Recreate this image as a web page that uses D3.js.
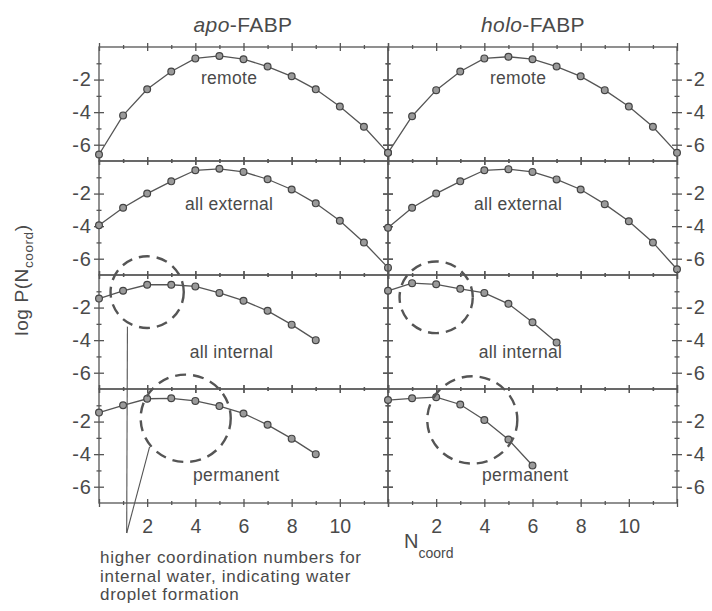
<!DOCTYPE html>
<html>
<head>
<meta charset="utf-8">
<script src="https://cdn.jsdelivr.net/npm/d3@7"></script>
<style>
  body { margin: 0; background: #fff; }
  text { font-family: "Liberation Sans", Arial, sans-serif; fill: #4a4a4a; }
</style>
</head>
<body>
<script>
// values, log P(Ncoord) for Ncoord = 0, 1, 2 ...
var nCoord = [0, 1, 2, 3, 4, 5, 6, 7, 8, 9, 10, 11, 12];
var panelNames = ['remote', 'all external', 'all internal', 'permanent'];
var proteins = ['apo', 'holo'];

var apoRemote = [-6.6, -4.2, -2.6, -1.5, -0.7, -0.55, -0.75, -1.2, -1.8, -2.6, -3.65, -4.9, -6.5];
var holoRemote = [-6.5, -4.25, -2.65, -1.5, -0.7, -0.6, -0.75, -1.2, -1.8, -2.65, -3.65, -4.9, -6.5];
var apoExternal = [-3.95, -2.87, -2.0, -1.25, -0.57, -0.48, -0.67, -1.12, -1.75, -2.6, -3.67, -5.0, -6.55];
var holoExternal = [-4.1, -2.87, -2.0, -1.25, -0.57, -0.5, -0.67, -1.13, -1.75, -2.65, -3.7, -5.0, -6.65];
var apoInternal = [-1.45, -0.97, -0.6, -0.6, -0.7, -1.1, -1.58, -2.2, -3.05, -4.0];
var holoInternal = [-0.97, -0.5, -0.57, -0.85, -1.1, -1.77, -2.9, -4.15];
var apoPermanent = [-1.45, -1.0, -0.6, -0.57, -0.73, -1.05, -1.5, -2.2, -3.05, -4.0];
var holoPermanent = [-0.68, -0.57, -0.5, -0.95, -1.9, -3.1, -4.7];

var xMajor = [0, 2, 4, 6, 8, 10, 12];
var xMinor = [1, 3, 5, 7, 9, 11];
var xLabels = [2, 4, 6, 8, 10];
var yMajor = [-2, -4, -6];
var yMinor = [-1, -3, -5];

// dashed circles marking the high coordination region (Ncoord, log P)
var droplets = [
  { panel: 2, prot: 0, cx: 2.0, cy: -1.05 },
  { panel: 2, prot: 1, cx: 2.0, cy: -1.37 },
  { panel: 3, prot: 0, cx: 3.6, cy: -1.8 },
  { panel: 3, prot: 1, cx: 3.5, cy: -1.9 }
];

var series = [
  [apoRemote, holoRemote],
  [apoExternal, holoExternal],
  [apoInternal, holoInternal],
  [apoPermanent, holoPermanent]
];

var w = 712, h = 611;
var top0 = 47, panelH = 114;
var ink = '#555';

var svg = d3.select('body').append('svg')
    .attr('width', w)
    .attr('height', h);

var xScales = [
  d3.scaleLinear().domain([0, 12]).range([99, 388]),
  d3.scaleLinear().domain([0, 12]).range([388, 677])
];

function yScale(i) {
  return d3.scaleLinear().domain([-7, 0]).range([top0 + (i + 1) * panelH, top0 + i * panelH]);
}

// crossing ticks: one axis each way
function crossTicks(g, axisA, axisB, vals, len) {
  [axisA, axisB].forEach(function(ax) {
    g.append('g').call(ax.tickValues(vals).tickSize(len).tickSizeOuter(0).tickFormat(''))
      .call(s => s.select('.domain').remove())
      .selectAll('line').attr('stroke', ink).attr('stroke-width', 1.3);
  });
}

var yLast = yScale(3);

for (var p = 0; p < 2; p++) {
  var x = xScales[p];
  for (var i = 0; i < 4; i++) {
    var y = yScale(i);
    var g = svg.append('g');

    g.append('rect')
      .attr('x', x(0)).attr('y', y(0))
      .attr('width', x(12) - x(0)).attr('height', y(-7) - y(0))
      .attr('fill', 'none').attr('stroke', ink).attr('stroke-width', 1.3);

    // x ticks on top and bottom edges
    [0, -7].forEach(function(v) {
      var gx = g.append('g').attr('transform', 'translate(0,' + y(v) + ')');
      crossTicks(gx, d3.axisTop(x), d3.axisBottom(x), xMajor, 4);
      crossTicks(gx, d3.axisTop(x), d3.axisBottom(x), xMinor, 2);
    });
    // y ticks on left and right edges
    [0, 12].forEach(function(v) {
      var gy = g.append('g').attr('transform', 'translate(' + x(v) + ',0)');
      crossTicks(gy, d3.axisLeft(y), d3.axisRight(y), yMajor, 5);
      crossTicks(gy, d3.axisLeft(y), d3.axisRight(y), yMinor, 2.5);
    });

    // y labels on outer sides only
    var yAx = p === 0
      ? d3.axisLeft(y).tickPadding(3)
      : d3.axisRight(y).tickPadding(5);
    g.append('g')
      .attr('transform', 'translate(' + (p === 0 ? x(0) : x(12)) + ',0)')
      .call(yAx.tickValues(yMajor).tickSize(4).tickSizeOuter(0).tickFormat(d => String(d)))
      .call(s => s.select('.domain').remove())
      .call(s => s.selectAll('line').remove())
      .selectAll('text').attr('font-size', 20).attr('letter-spacing', 1).attr('fill', '#4a4a4a');

    var vals = series[i][p];
    var pts = vals.map(function(v, k) { return [nCoord[k], v]; });

    g.append('path')
      .datum(pts)
      .attr('fill', 'none')
      .attr('stroke', ink)
      .attr('stroke-width', 1.3)
      .attr('d', d3.line().x(d => x(d[0])).y(d => y(d[1])));

    g.selectAll('circle.pt')
      .data(pts)
      .enter()
      .append('circle')
      .attr('class', 'pt')
      .attr('cx', d => x(d[0]))
      .attr('cy', d => y(d[1]))
      .attr('r', 3.4)
      .attr('fill', '#9a9a9a')
      .attr('stroke', '#444')
      .attr('stroke-width', 1.2);

    // panel label
    var lab = [[5.4, -2.3], [5.4, -3.0], [5.5, -5.1], [5.7, -5.65]][i];
    g.append('text')
      .attr('x', x(lab[0]))
      .attr('y', y(lab[1]))
      .attr('text-anchor', 'middle')
      .attr('font-size', 17.5)
      .attr('letter-spacing', 0.3)
      .text(panelNames[i]);
  }

  // bottom tick labels
  svg.append('g')
    .attr('transform', 'translate(0,' + yLast(-7) + ')')
    .call(d3.axisBottom(x).tickValues(xLabels).tickSize(4).tickPadding(12))
    .call(s => s.select('.domain').remove())
    .call(s => s.selectAll('line').remove())
    .selectAll('text').attr('font-size', 19.5).attr('fill', '#4a4a4a');
}

// dashed circles
droplets.forEach(function(c) {
  var x = xScales[c.prot], y = yScale(c.panel);
  var rx = c.panel === 2 ? 1.52 : 1.87;
  var ry = c.panel === 2 ? 2.2 : 2.68;
  svg.append('ellipse')
    .attr('cx', x(c.cx))
    .attr('cy', y(c.cy))
    .attr('rx', x(rx) - x(0))
    .attr('ry', y(0) - y(ry))
    .attr('fill', 'none')
    .attr('stroke', ink)
    .attr('stroke-width', 2.4)
    .attr('stroke-dasharray', '11,7');
});

// pointer lines from the apo circles to the note
var xa = xScales[0];
var meet = [xa(1.15), 533];
var c1 = droplets[0], c2 = droplets[2];
svg.append('line')
  .attr('x1', xa(1.18)).attr('y1', yScale(2)(c1.cy - 2.12))
  .attr('x2', meet[0]).attr('y2', meet[1])
  .attr('stroke', ink).attr('stroke-width', 1.1);
svg.append('line')
  .attr('x1', xa(2.1)).attr('y1', yScale(3)(c2.cy - 1.75))
  .attr('x2', meet[0]).attr('y2', meet[1])
  .attr('stroke', ink).attr('stroke-width', 1.1);

// titles
svg.append('text').attr('x', 243).attr('y', 32).attr('text-anchor', 'middle').attr('font-size', 21)
  .attr('letter-spacing', 0.4)
  .call(t => { t.append('tspan').attr('font-style', 'italic').text('apo'); t.append('tspan').text('-FABP'); });
svg.append('text').attr('x', 533).attr('y', 32).attr('text-anchor', 'middle').attr('font-size', 21)
  .attr('letter-spacing', 0.4)
  .call(t => { t.append('tspan').attr('font-style', 'italic').text('holo'); t.append('tspan').text('-FABP'); });

// y axis title
svg.append('text')
  .attr('transform', 'translate(28,280) rotate(-90)')
  .attr('text-anchor', 'middle')
  .attr('font-size', 19)
  .attr('letter-spacing', 0.6)
  .call(t => {
    t.append('tspan').text('log P(N');
    t.append('tspan').attr('font-size', 13.5).attr('dy', 5).text('coord');
    t.append('tspan').attr('dy', -5).text(')');
  });

// x axis title
svg.append('text')
  .attr('x', 404).attr('y', 548)
  .attr('font-size', 20)
  .call(t => {
    t.append('tspan').text('N');
    t.append('tspan').attr('font-size', 14).attr('dy', 10).text('coord');
  });

// note
var note = ['higher coordination numbers for', 'internal water, indicating water', 'droplet formation'];
svg.append('g').selectAll('text')
  .data(note)
  .enter()
  .append('text')
  .attr('x', 100)
  .attr('y', (d, i) => 563 + i * 18.5)
  .attr('font-size', 17)
  .attr('letter-spacing', 0.7)
  .text(d => d);
</script>
</body>
</html>
